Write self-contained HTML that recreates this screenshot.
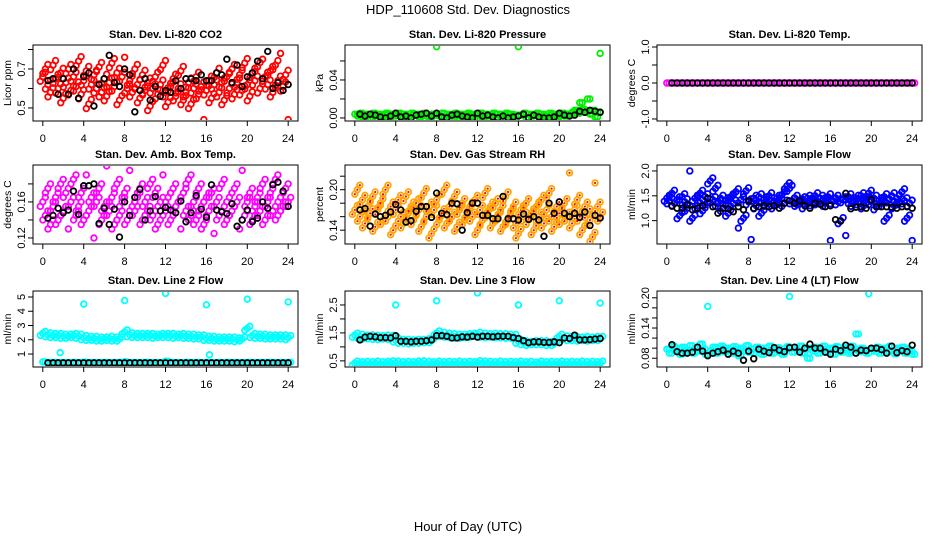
<!DOCTYPE html>
<html><head><meta charset="utf-8">
<style>
html,body{margin:0;padding:0;background:#fff;}
svg{display:block;font-family:"Liberation Sans",sans-serif;}
</style></head>
<body>
<svg id="chart" width="936" height="540" viewBox="0 0 936 540" xmlns="http://www.w3.org/2000/svg">
<rect x="0" y="0" width="936" height="540" fill="#fff"/>
<text x="468" y="14" font-size="13" text-anchor="middle">HDP_110608  Std. Dev. Diagnostics</text>
<text x="468" y="531" font-size="13" text-anchor="middle">Hour of Day (UTC)</text>
</svg>
<script>
const xTicks = [0,4,8,12,16,20,24];

const co2Color = [0.66,0.70,0.62,0.58,0.72,0.65,0.60,0.68,0.55,0.63,0.70,0.59,0.66,0.61,0.74,0.57,0.64,0.69,0.52,0.62,0.67,0.60,0.71,0.58,0.65,0.56,0.63,0.73,0.61,0.68,0.54,0.66,0.76,0.60,0.64,0.58,0.70,0.62,0.55,0.67,0.59,0.63,0.51,0.60,0.66,0.57,0.62,0.72,0.58,0.53,0.61,0.65,0.56,0.60,0.69,0.54,0.58,0.63,0.52,0.60,0.66,0.57,0.61,0.44,0.59,0.64,0.55,0.62,0.68,0.58,0.63,0.54,0.66,0.60,0.70,0.57,0.63,0.67,0.59,0.73,0.62,0.56,0.68,0.64,0.71,0.60,0.75,0.66,0.62,0.69,0.58,0.72,0.64,0.78,0.61,0.67,0.44];
const co2Black = [0.64,0.65,0.57,0.65,0.57,0.70,0.55,0.66,0.68,0.51,0.62,0.65,0.77,0.63,0.61,0.70,0.67,0.48,0.59,0.65,0.54,0.61,0.56,0.59,0.58,0.64,0.60,0.65,0.65,0.64,0.67,0.64,0.64,0.68,0.67,0.75,0.63,0.72,0.61,0.66,0.68,0.74,0.65,0.79,0.60,0.63,0.59,0.62];

const presColor = [0.004,0.002,0.005,0.001,0.004,0.003,0.000,0.005,0.002,0.004,0.001,0.003,0.005,0.000,0.004,0.002,0.003,0.005,0.001,0.004,0.002,0.000,0.005,0.003,0.004,0.001,0.003,0.005,0.002,0.000,0.004,0.003,0.075,0.002,0.005,0.001,0.004,0.003,0.000,0.005,0.002,0.004,0.001,0.003,0.005,0.002,0.004,0.000,0.003,0.005,0.001,0.004,0.002,0.003,0.005,0.000,0.004,0.002,0.003,0.005,0.001,0.004,0.002,0.003,0.075,0.003,0.005,0.000,0.004,0.002,0.003,0.005,0.001,0.004,0.002,0.000,0.005,0.003,0.004,0.001,0.003,0.005,0.002,0.004,0.003,0.006,0.008,0.005,0.016,0.009,0.006,0.020,0.004,0.008,0.001,0.006,0.068];
const presBlack = [0.004,0.002,0.004,0.003,0.001,0.000,0.002,0.005,0.001,0.002,0.000,0.003,0.004,0.005,0.002,0.005,0.001,0.000,0.003,0.004,0.002,0.001,0.000,0.005,0.002,0.003,0.001,0.000,0.002,0.000,0.001,0.002,0.004,0.000,0.003,0.001,0.000,0.000,0.001,0.005,0.003,0.002,0.003,0.007,0.006,0.008,0.007,0.006];

const tempColor = [0,0,0,0,0,0,0,0,0,0,0,0,0,0,0,0,0,0,0,0,0,0,0,0,0,0,0,0,0,0,0,0,0,0,0,0,0,0,0,0,0,0,0,0,0,0,0,0,0];
const tempBlack = [0,0,0,0,0,0,0,0,0,0,0,0,0,0,0,0,0,0,0,0,0,0,0,0,0,0,0,0,0,0,0,0,0,0,0,0,0,0,0,0,0,0,0,0,0,0,0,0];

const ambColor = [0.16,0.145,0.175,0.135,0.155,0.165,0.14,0.18,0.15,0.17,0.13,0.16,0.185,0.145,0.155,0.17,0.14,0.19,0.15,0.165,0.12,0.16,0.175,0.14,0.155,0.2,0.15,0.165,0.135,0.18,0.145,0.16,0.17,0.14,0.195,0.155,0.15,0.165,0.175,0.14,0.16,0.15,0.18,0.145,0.17,0.135,0.16,0.19,0.15,0.165,0.14,0.175,0.155,0.16,0.13,0.17,0.15,0.185,0.145,0.16,0.14,0.175,0.155,0.135,0.165,0.15,0.17,0.125,0.16,0.145,0.18,0.155,0.14,0.165,0.15,0.175,0.16,0.13,0.195,0.145,0.16,0.17,0.14,0.155,0.165,0.15,0.18,0.14,0.16,0.17,0.15,0.185,0.145,0.165,0.155,0.175,0.16];
const ambBlack = [0.142,0.145,0.153,0.148,0.151,0.172,0.146,0.178,0.178,0.180,0.136,0.153,0.135,0.152,0.121,0.160,0.145,0.165,0.174,0.140,0.150,0.166,0.150,0.154,0.151,0.148,0.161,0.138,0.148,0.167,0.152,0.143,0.179,0.151,0.149,0.147,0.158,0.133,0.140,0.151,0.138,0.142,0.160,0.153,0.179,0.182,0.172,0.155];

const rhColor = [0.17,0.2,0.16,0.185,0.15,0.175,0.165,0.19,0.145,0.17,0.18,0.155,0.2,0.16,0.175,0.14,0.17,0.185,0.16,0.15,0.19,0.165,0.175,0.155,0.18,0.17,0.145,0.195,0.16,0.175,0.135,0.17,0.185,0.155,0.165,0.2,0.15,0.175,0.16,0.19,0.145,0.17,0.18,0.155,0.165,0.175,0.16,0.185,0.14,0.17,0.155,0.195,0.165,0.175,0.15,0.18,0.16,0.17,0.145,0.19,0.155,0.165,0.175,0.15,0.135,0.17,0.16,0.18,0.155,0.165,0.14,0.175,0.16,0.185,0.15,0.17,0.195,0.16,0.145,0.175,0.165,0.155,0.18,0.16,0.225,0.15,0.17,0.185,0.16,0.14,0.175,0.165,0.155,0.13,0.21,0.175,0.16];
const rhBlack = [0.170,0.172,0.146,0.164,0.160,0.162,0.167,0.178,0.170,0.152,0.154,0.168,0.175,0.175,0.159,0.195,0.165,0.163,0.180,0.179,0.140,0.166,0.180,0.180,0.162,0.162,0.157,0.157,0.190,0.157,0.157,0.155,0.164,0.156,0.160,0.155,0.131,0.180,0.165,0.182,0.165,0.160,0.165,0.159,0.167,0.147,0.162,0.158];

const flowColor = [1.45,1.40,1.55,1.35,1.42,1.10,1.48,1.38,1.25,2.0,1.05,1.45,1.30,1.55,1.20,1.48,1.38,1.80,1.42,1.65,1.35,1.45,1.25,1.40,1.15,1.48,1.35,1.58,0.85,1.42,1.05,1.60,1.38,0.62,1.45,1.30,1.48,1.15,1.42,1.35,1.50,1.40,1.30,1.45,1.38,1.52,1.35,1.70,1.65,1.40,1.45,1.35,1.38,1.42,1.30,1.45,1.40,1.36,1.50,1.38,1.45,1.40,1.35,1.48,0.60,1.40,1.45,1.38,1.0,1.42,0.70,1.48,1.40,1.35,1.45,1.38,1.50,1.30,1.42,1.55,1.38,1.45,1.28,1.40,1.35,1.48,1.05,1.42,1.50,1.30,1.45,1.38,1.58,1.40,1.05,1.35,0.60];
const flowBlack = [1.30,1.25,1.25,1.32,1.22,1.25,1.30,1.45,1.28,1.15,1.25,1.24,1.18,1.28,1.22,1.40,1.25,1.28,1.30,1.28,1.30,1.25,1.35,1.40,1.35,1.40,1.30,1.25,1.35,1.33,1.28,1.30,1.02,0.99,1.55,1.24,1.27,1.28,1.25,1.42,1.28,1.28,1.28,1.27,1.25,1.28,1.28,1.25];

const l2Upper = [2.45,2.35,2.3,2.3,2.25,2.25,2.3,2.25,2.15,2.1,2.1,2.05,2.05,2.1,2.05,2.05,2.55,2.35,2.3,2.3,2.3,2.3,2.25,2.3,2.3,2.3,2.25,2.3,2.25,2.25,2.2,2.2,2.1,2.1,2.05,2.05,2.05,2.05,2.0,2.05,2.8,2.3,2.25,2.25,2.2,2.2,2.2,2.2,2.15];
const l2Lower = [0.45,0.4,0.42,0.4,0.41,0.4,0.42,0.4,0.43,0.4,0.41,0.4,0.42,0.4,0.41,0.42,0.45,0.4,0.41,0.4,0.42,0.4,0.41,0.4,0.5,0.4,0.41,0.4,0.42,0.4,0.41,0.4,0.42,0.4,0.41,0.4,0.42,0.4,0.41,0.4,0.42,0.4,0.41,0.4,0.42,0.4,0.41,0.4,0.42];
const l2OutX = [4,8,12,16,20,24,1.7,16.3];
const l2OutY = [4.5,4.75,5.25,4.45,4.85,4.65,1.1,0.95];
const l2Black = [0.38,0.38,0.38,0.38,0.38,0.38,0.38,0.38,0.38,0.38,0.38,0.38,0.38,0.38,0.38,0.38,0.38,0.38,0.38,0.38,0.38,0.38,0.38,0.38,0.38,0.38,0.38,0.38,0.38,0.38,0.38,0.38,0.38,0.38,0.38,0.38,0.38,0.38,0.38,0.38,0.38,0.38,0.38,0.38,0.38,0.38,0.38,0.38];

const l3Upper = [1.42,1.38,1.35,1.36,1.34,1.33,1.35,1.34,1.25,1.2,1.2,1.18,1.2,1.2,1.22,1.22,1.5,1.45,1.42,1.4,1.38,1.38,1.4,1.42,1.45,1.42,1.4,1.42,1.4,1.4,1.38,1.38,1.2,1.15,1.12,1.15,1.15,1.15,1.12,1.12,1.38,1.32,1.3,1.3,1.28,1.3,1.28,1.3,1.3];
const l3Lower = [0.42,0.4,0.41,0.4,0.42,0.4,0.41,0.43,0.42,0.4,0.41,0.4,0.42,0.43,0.41,0.4,0.42,0.4,0.41,0.4,0.42,0.4,0.41,0.4,0.44,0.42,0.41,0.4,0.42,0.4,0.41,0.4,0.42,0.4,0.41,0.38,0.42,0.4,0.41,0.4,0.42,0.4,0.41,0.4,0.42,0.4,0.41,0.4,0.42];
const l3OutX = [4,8,12,16,20,24];
const l3OutY = [2.5,2.65,2.93,2.5,2.65,2.57];
const l3Black = [1.25,1.35,1.38,1.36,1.33,1.33,1.32,1.4,1.2,1.2,1.18,1.2,1.2,1.22,1.25,1.4,1.4,1.38,1.32,1.32,1.36,1.35,1.38,1.35,1.38,1.38,1.36,1.38,1.38,1.38,1.33,1.3,1.22,1.15,1.18,1.18,1.16,1.16,1.18,1.15,1.32,1.3,1.42,1.25,1.25,1.26,1.28,1.3];

const l4Color = [0.098,0.09,0.104,0.095,0.1,0.088,0.102,0.096,0.092,0.105,0.09,0.1,0.094,0.108,0.098,0.088,0.183,0.095,0.102,0.09,0.099,0.104,0.093,0.1,0.096,0.09,0.103,0.097,0.085,0.1,0.094,0.105,0.092,0.098,0.09,0.102,0.096,0.088,0.1,0.094,0.104,0.09,0.097,0.101,0.093,0.088,0.099,0.103,0.2025,0.092,0.1,0.095,0.104,0.09,0.098,0.08,0.1,0.094,0.102,0.09,0.097,0.104,0.092,0.098,0.1,0.088,0.103,0.095,0.092,0.101,0.096,0.09,0.104,0.098,0.128,0.093,0.1,0.096,0.09,0.208,0.099,0.094,0.102,0.09,0.097,0.1,0.093,0.104,0.095,0.089,0.1,0.096,0.102,0.09,0.098,0.094,0.088];
const l4Black = [0.107,0.093,0.09,0.09,0.092,0.102,0.094,0.085,0.09,0.093,0.096,0.088,0.094,0.09,0.076,0.094,0.079,0.098,0.094,0.091,0.101,0.096,0.093,0.101,0.102,0.092,0.1,0.108,0.1,0.1,0.092,0.088,0.098,0.095,0.106,0.102,0.09,0.096,0.095,0.1,0.1,0.097,0.09,0.104,0.091,0.095,0.093,0.106];

const svg = document.getElementById('chart');
const NS = 'http://www.w3.org/2000/svg';
function mk(tag, attrs, parent) {
  const e = document.createElementNS(NS, tag);
  for (const k in attrs) e.setAttribute(k, attrs[k]);
  (parent || svg).appendChild(e);
  return e;
}

const colX = [33, 345, 657];
const rowY = [[45,121],[165,244],[291,367]];
const plotW = 265;
// marker glyph offsets (px) used to render dense scatter clouds
const cloudGlyph = [[0,0],[2.5,-4.5],[-2.5,4.5]];
const bandGlyph = [[0,0],[2.5,0]];

function makePanel(col, row, title, ylab, ylim, ticks, labels, key) {
  const x0 = colX[col], x1 = x0 + plotW;
  const [y0, y1] = rowY[row];
  const g = mk('g', {});
  
  
  const sx = v => x0 + (v + 0.96) / 25.92 * plotW;
  const sy = v => y1 - (v - ylim[0]) / (ylim[1] - ylim[0]) * (y1 - y0);
  const t = mk('text', {x: (x0 + x1) / 2, y: y0 - 7, 'font-size': 11, 'font-weight': 'bold', 'text-anchor': 'middle'}, g);
  t.textContent = title;
  
  
  const yl = mk('text', {x: 0, y: 0, 'font-size': 10.5, 'text-anchor': 'middle', transform: `translate(${x0 - 22},${(y0 + y1) / 2}) rotate(-90)`}, g);
  yl.textContent = ylab;
  
  
  const xa = mk('g', {}, g);
  
  
  mk('line', {x1: sx(0), x2: sx(24), y1: y1, y2: y1, stroke: '#000'}, xa);
  xTicks.forEach(v => {
    mk('line', {x1: sx(v), x2: sx(v), y1: y1, y2: y1 + 5, stroke: '#000'}, xa);
    const tl = mk('text', {x: sx(v), y: y1 + 21, 'font-size': 11, 'text-anchor': 'middle'}, xa);
    tl.textContent = v;
  });
  const ya = mk('g', {}, g);
  
  
  mk('line', {x1: x0, x2: x0, y1: sy(ticks[0]), y2: sy(ticks[ticks.length - 1]), stroke: '#000'}, ya);
  ticks.forEach((v, i) => {
    mk('line', {x1: x0 - 5, x2: x0, y1: sy(v), y2: sy(v), stroke: '#000'}, ya);
    if (labels[i]) {
      const tl = mk('text', {x: 0, y: 0, 'font-size': 11, 'text-anchor': 'middle', transform: `translate(${x0 - 8},${sy(v)}) rotate(-90)`}, ya);
      tl.textContent = labels[i];
    }
  });
  const box = mk('rect', {x: x0, y: y0, width: plotW, height: y1 - y0, fill: 'none', stroke: '#000'}, g);
  
  
  const clipId = 'clip-' + key;
  const cp = mk('clipPath', {id: clipId}, g);
  mk('rect', {x: x0 + 1, y: y0 + 1, width: plotW - 2, height: y1 - y0 - 2}, cp);
  const pts = mk('g', {'clip-path': `url(#${clipId})`}, g);
  return {
    series(vals, color, name, start, end, glyph, inner) {
      const sg = mk('g', {}, pts);
      
      
      const n = vals.length;
      const med = vals.slice().sort((a, b) => a - b)[Math.floor(n / 2)];
      vals.forEach((v, i) => {
        const hx = start + (end - start) * i / (n - 1);
        const cx = sx(hx), cy = sy(v);
        const offs = (glyph && Math.abs(cy - sy(med)) < 25) ? glyph : [[0,0]];
        offs.forEach(([dx, dy]) => {
          const c = mk('circle', {cx: cx + dx, cy: cy + dy, r: 2.8, fill: 'none', stroke: color, 'stroke-width': 1.8}, sg);
          
          
          if (inner) mk('circle', {cx: cx + dx, cy: cy + dy, r: 1.1, fill: inner}, sg);
        });
      });
    },
    xy(xs, ys, color, name) {
      const sg = mk('g', {}, pts);
      
      
      xs.forEach((hx, i) => {
        const c = mk('circle', {cx: sx(hx), cy: sy(ys[i]), r: 2.8, fill: 'none', stroke: color, 'stroke-width': 1.8}, sg);
        
        
      });
    }
  };
}

let p;
p = makePanel(0, 0, 'Stan. Dev. Li-820 CO2', 'Licor ppm', [0.433, 0.823], [0.5,0.6,0.7,0.8], ['0.5','','0.7',''], 'co2');
p.series(co2Color, '#ff0000', 'red-series', 0, 24, cloudGlyph);
p.series(co2Black, '#000', 'black-series', 0.5, 24);

p = makePanel(1, 0, 'Stan. Dev. Li-820 Pressure', 'kPa', [-0.0032, 0.0768], [0,0.02,0.04,0.06], ['0.00','','0.04',''], 'pressure');
p.series(presColor, '#00ee00', 'green-series', 0, 24, bandGlyph);
p.series(presBlack, '#000', 'black-series', 0.5, 24);

p = makePanel(2, 0, 'Stan. Dev. Li-820 Temp.', 'degrees C', [-1.056, 1.056], [-1,-0.5,0,0.5,1], ['-1.0','','0.0','','1.0'], 'li820-temp');
p.series(tempColor, '#ff00ff', 'magenta-series', 0, 24, bandGlyph);
p.series(tempBlack, '#000', 'black-series', 0.5, 24);

p = makePanel(0, 1, 'Stan. Dev. Amb. Box Temp.', 'degrees C', [0.1133, 0.201], [0.12,0.14,0.16,0.18], ['0.12','','0.16',''], 'amb-temp');
p.series(ambColor, '#ff00ff', 'magenta-series', 0, 24, cloudGlyph);
p.series(ambBlack, '#000', 'black-series', 0.5, 24);

p = makePanel(1, 1, 'Stan. Dev. Gas Stream RH', 'percent', [0.1195, 0.2366], [0.14,0.16,0.18,0.20,0.22], ['0.14','','','0.20',''], 'rh');
p.series(rhColor, '#ffa500', 'orange-series', 0, 24, cloudGlyph, '#ff0000');
p.series(rhBlack, '#000', 'black-series', 0.5, 24);

p = makePanel(2, 1, 'Stan. Dev. Sample Flow', 'ml/min', [0.53, 2.12], [1.0,1.5,2.0], ['1.0','1.5','2.0'], 'sample-flow');
p.series(flowColor, '#0000ff', 'blue-series', 0, 24, [[0,0],[2.5,-3],[-2.5,3]]);
p.series(flowBlack, '#000', 'black-series', 0.5, 24);

p = makePanel(0, 2, 'Stan. Dev. Line 2 Flow', 'ml/min', [0.09, 5.42], [1,2,3,4,5], ['1','2','3','4','5'], 'line2-flow');
p.series(l2Upper, '#00ffff', 'cyan-upper-series', 0, 24, [[0,0],[2.5,-2],[-2.5,2]]);
p.series(l2Lower, '#00ffff', 'cyan-lower-series', 0, 24, bandGlyph);
p.xy(l2OutX, l2OutY, '#00ffff', 'cyan-outliers');
p.series(l2Black, '#000', 'black-series', 0.5, 24);

p = makePanel(1, 2, 'Stan. Dev. Line 3 Flow', 'ml/min', [0.28, 3.0], [0.5,1.0,1.5,2.0,2.5], ['0.5','','1.5','','2.5'], 'line3-flow');
p.series(l3Upper, '#00ffff', 'cyan-upper-series', 0, 24, [[0,0],[2.5,-2],[-2.5,2]]);
p.series(l3Lower, '#00ffff', 'cyan-lower-series', 0, 24, [[0,0],[2.5,-2],[-2.5,2]]);
p.xy(l3OutX, l3OutY, '#00ffff', 'cyan-outliers');
p.series(l3Black, '#000', 'black-series', 0.5, 24);

p = makePanel(2, 2, 'Stan. Dev. Line 4 (LT) Flow', 'ml/min', [0.0626, 0.2135], [0.08,0.10,0.12,0.14,0.16,0.18,0.20], ['0.08','','','0.14','','','0.20'], 'line4-flow');
p.series(l4Color, '#00ffff', 'cyan-series', 0, 24, bandGlyph);
p.series(l4Black, '#000', 'black-series', 0.5, 24);
</script>
</body></html>
